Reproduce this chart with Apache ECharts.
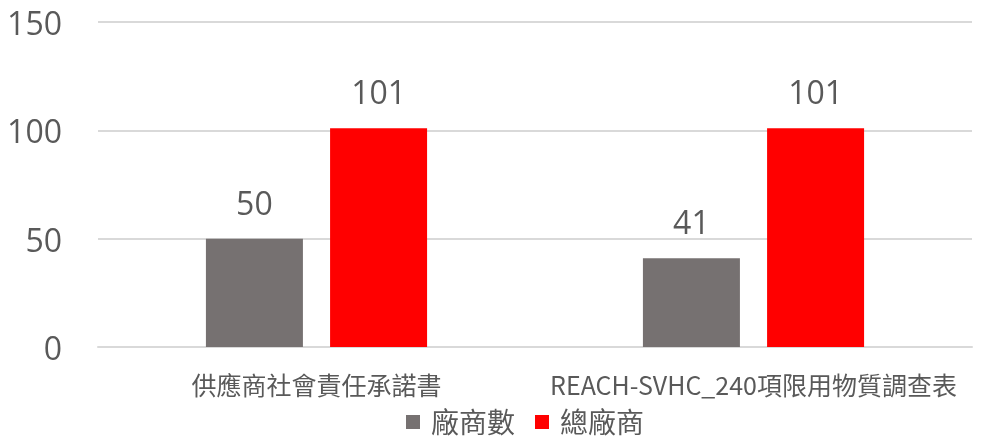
<!DOCTYPE html>
<html>
<head>
<meta charset="utf-8">
<script src="https://cdn.jsdelivr.net/npm/echarts@6/dist/echarts.min.js"></script>
<style>
  html, body { margin: 0; padding: 0; background: #fff; }
  #chart { width: 982px; height: 439px; }
</style>
</head>
<body>
<div id="chart"></div>
<script>
var categories = ['供應商社會責任承諾書', 'REACH-SVHC_240項限用物質調查表'];
var vendorCount = [50, 41];
var totalVendors = [101, 101];
var seriesNames = ['廠商數', '總廠商'];

var font = '"Open Sans", "Noto Sans CJK TC", sans-serif';
var cjkFont = '"Noto Sans CJK TC", sans-serif';
var textColor = '#595959';

var chart = echarts.init(document.getElementById('chart'));

var option = {
    animation: false,
    backgroundColor: '#fff',
    grid: { left: 98, right: 10, top: 22, bottom: 92 },
    legend: {
        data: seriesNames,
        top: 403,
        left: 401,
        itemWidth: 14,
        itemHeight: 14,
        itemGap: 20,
        icon: 'rect',
        textStyle: { fontSize: 28, color: textColor, fontFamily: cjkFont, padding: [0, 0, 0, 6] }
    },
    xAxis: {
        type: 'category',
        data: categories,
        axisLine: { lineStyle: { color: '#d9d9d9', width: 2 } },
        axisTick: { show: false },
        axisLabel: { interval: 0, fontSize: 25, color: textColor, margin: 26, fontFamily: cjkFont }
    },
    yAxis: {
        type: 'value',
        min: 0,
        max: 150,
        interval: 50,
        axisLine: { show: false },
        axisTick: { show: false },
        axisLabel: {
            margin: 36,
            formatter: '{v|{value}}',
            rich: { v: { fontSize: 32, color: textColor, fontFamily: font, padding: [8, 0, 0, 0] } }
        },
        splitLine: { lineStyle: { color: '#d9d9d9', width: 2 } }
    },
    series: [
        {
            name: seriesNames[0],
            type: 'bar',
            data: vendorCount,
            barWidth: 97,
            barGap: '28%',
            itemStyle: { color: '#767171' },
            label: { show: true, position: 'top', distance: 17, fontSize: 32, color: textColor, fontFamily: font }
        },
        {
            name: seriesNames[1],
            type: 'bar',
            data: totalVendors,
            barWidth: 97,
            barGap: '28%',
            itemStyle: { color: '#ff0000' },
            label: { show: true, position: 'top', distance: 17, fontSize: 32, color: textColor, fontFamily: font }
        }
    ]
};

chart.setOption(option);
</script>
</body>
</html>
